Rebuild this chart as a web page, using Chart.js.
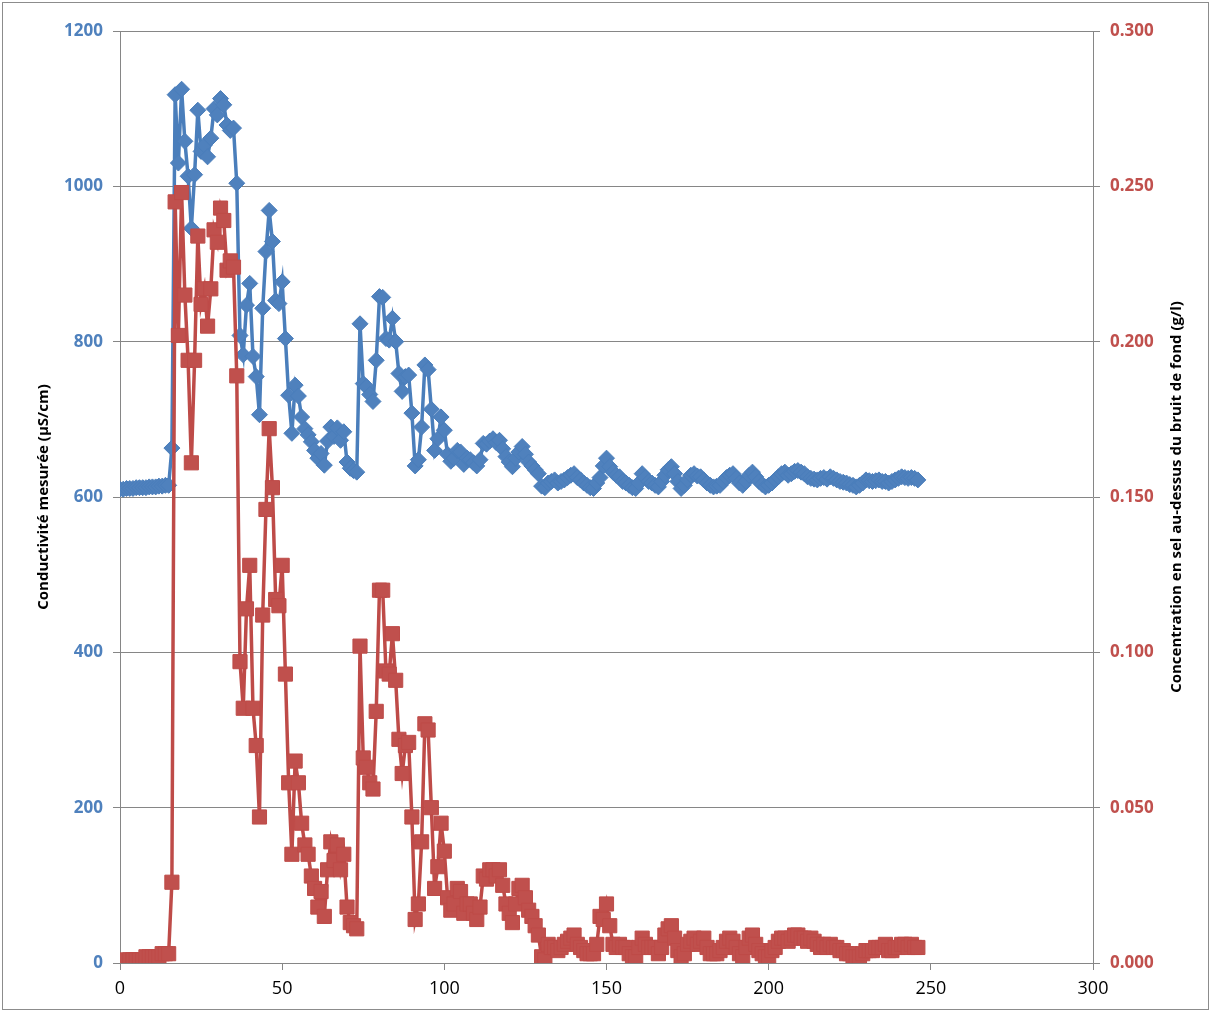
<!DOCTYPE html>
<html>
<head>
<meta charset="utf-8">
<title>Conductivité et concentration en sel</title>
<script src="https://cdn.jsdelivr.net/npm/chart.js@4.4.0/dist/chart.umd.min.js"></script>
<style>
  html, body { margin: 0; padding: 0; background: #fff; }
  #wrap { width: 1212px; height: 1013px; }
</style>
</head>
<body>
<div id="wrap"><canvas id="chart" width="1212" height="1013"></canvas></div>
<script>
// one reading per minute, starting at 0
var conductivite = [
  610, 610, 611, 611, 611, 612, 612, 612, 612, 613, 613, 613, 614, 614, 615, 615,
  663,
  1118, 1030, 1125, 1058, 1013, 946, 1015, 1098, 1045, 1053,
  1038, 1062, 1100, 1092, 1113, 1105, 1079, 1072, 1075, 1004,
  808, 783, 847, 875, 781, 755, 706, 843, 916, 969,
  929, 853, 849, 877, 804, 731, 682, 744, 730, 703,
  688, 680, 671, 660, 650,
  656, 641, 672, 690, 678, 689, 673, 684, 645, 637,
  634, 632, 823, 746, 742, 732, 723, 776, 858, 857,
  804, 802, 830, 800, 759, 736, 755, 757, 708, 640,
  648, 690, 770, 764, 713, 660, 675, 703, 686, 655,
  646, 650, 660, 658, 642, 650, 648, 644, 640, 648, 669,
  668, 672, 675, 670, 673, 662, 652, 645, 639, 650,
  658, 665, 655, 645, 640, 635, 630, 614, 612, 618,
  620, 622, 618, 620, 622, 625, 628, 630, 625, 622,
  618, 615, 612, 611, 618, 625, 640, 650, 639, 632,
  628, 626, 620, 618, 615, 612, 611, 618, 630, 625,
  620, 618, 615, 613, 620, 628, 635, 639, 630, 620,
  611, 615, 622, 628, 630, 627, 626, 622, 618, 615,
  613, 614, 615, 620, 625, 628, 630, 624, 618, 615,
  620, 628, 632, 626, 620, 616, 613, 615, 618, 622,
  626, 630, 632, 628, 630, 633, 634, 632, 630, 626,
  624, 623, 622, 624, 625, 623, 626, 624, 622, 620,
  619, 618, 616, 615, 613, 615, 618, 622, 621, 620,
  621, 622, 620, 620, 618, 620, 622, 624, 626, 625,
  624, 625, 624, 622
];

var concentration = [
  0.000, 0.000, 0.001, 0.001, 0.001, 0.001, 0.001, 0.001, 0.002, 0.002, 0.002, 0.002, 0.002, 0.003, 0.003, 0.003,
  0.026,
  0.245, 0.202, 0.248, 0.215, 0.194, 0.161, 0.194, 0.234, 0.212, 0.217,
  0.205, 0.217, 0.236, 0.232, 0.243, 0.239, 0.223, 0.226, 0.224, 0.189,
  0.097, 0.082, 0.114, 0.128, 0.082, 0.070, 0.047, 0.112, 0.146, 0.172,
  0.153, 0.117, 0.115, 0.128, 0.093, 0.058, 0.035, 0.065, 0.058, 0.045,
  0.038, 0.035, 0.028, 0.024, 0.018,
  0.023, 0.015, 0.030, 0.039, 0.033, 0.038, 0.030, 0.035, 0.018, 0.013,
  0.012, 0.011, 0.102, 0.066, 0.063, 0.058, 0.056, 0.081, 0.120, 0.120,
  0.094, 0.093, 0.106, 0.091, 0.072, 0.061, 0.070, 0.071, 0.047, 0.014,
  0.019, 0.039, 0.077, 0.075, 0.050, 0.024, 0.031, 0.045, 0.036, 0.021,
  0.017, 0.019, 0.024, 0.023, 0.016, 0.019, 0.019, 0.016, 0.014, 0.018, 0.028,
  0.027, 0.030, 0.030, 0.028, 0.030, 0.025, 0.019, 0.016, 0.013, 0.019,
  0.024, 0.025, 0.021, 0.017, 0.015, 0.012, 0.009, 0.002, 0.001, 0.006,
  0.005, 0.005, 0.004, 0.005, 0.006, 0.007, 0.008, 0.009, 0.006, 0.005,
  0.004, 0.003, 0.003, 0.003, 0.006, 0.015, 0.014, 0.019, 0.012, 0.006,
  0.005, 0.006, 0.005, 0.005, 0.003, 0.002, 0.002, 0.005, 0.008, 0.006,
  0.005, 0.005, 0.005, 0.003, 0.005, 0.009, 0.011, 0.012, 0.008, 0.004,
  0.002, 0.003, 0.006, 0.007, 0.008, 0.006, 0.007, 0.008, 0.005, 0.003,
  0.003, 0.003, 0.004, 0.005, 0.007, 0.008, 0.007, 0.005, 0.003, 0.002,
  0.005, 0.008, 0.009, 0.006, 0.004, 0.003, 0.002, 0.002, 0.004, 0.005,
  0.007, 0.008, 0.008, 0.007, 0.008, 0.009, 0.009, 0.008, 0.008, 0.007,
  0.008, 0.007, 0.006, 0.005, 0.006, 0.005, 0.006, 0.005, 0.005, 0.004,
  0.004, 0.003, 0.003, 0.002, 0.002, 0.002, 0.003, 0.004, 0.004, 0.004,
  0.005, 0.005, 0.005, 0.006, 0.004, 0.004, 0.005, 0.005, 0.006, 0.006,
  0.005, 0.006, 0.005, 0.005
];

var leftTitle = 'Conductivité mesurée (µS/cm)';
var rightTitle = 'Concentration en sel au-dessus du bruit de fond (g/l)';

var font = '"Open Sans", "Liberation Sans", sans-serif';
var gridColor = '#868686';

// Excel draws the right axis title bottom-to-top, chart.js does not
var extras = {
  id: 'extras',
  beforeDraw: function (chart) {
    var ctx = chart.ctx;
    ctx.save();
    ctx.fillStyle = '#fff';
    ctx.fillRect(0, 0, chart.width, chart.height);
    ctx.restore();
  },
  afterDraw: function (chart) {
    var ctx = chart.ctx, area = chart.chartArea;
    ctx.save();
    ctx.strokeStyle = '#8c8c8c';
    ctx.lineWidth = 1;
    ctx.strokeRect(2.5, 2.5, 1206, 1007);
    ctx.translate(1177, (area.top + area.bottom) / 2);
    ctx.rotate(-Math.PI / 2);
    ctx.font = 'bold 15px ' + font;
    ctx.fillStyle = '#000';
    ctx.textAlign = 'center';
    ctx.textBaseline = 'middle';
    ctx.fillText(rightTitle, 0, 0);
    ctx.restore();
  }
};

var ctx = document.getElementById('chart').getContext('2d');
var chart = new Chart(ctx, {
  type: 'line',
  data: {
    datasets: [
      {
        label: 'Concentration',
        data: concentration.map(function (v, i) { return {x: i, y: v}; }),
        yAxisID: 'y1',
        borderColor: '#BE4B48',
        backgroundColor: '#C0504D',
        borderWidth: 3.5,
        pointStyle: 'rect',
        pointRadius: 10,
        pointBorderWidth: 1,
        pointBorderColor: '#BE4B48',
        pointBackgroundColor: '#C0504D',
        tension: 0
      },
      {
        label: 'Conductivité',
        data: conductivite.map(function (v, i) { return {x: i, y: v}; }),
        yAxisID: 'y',
        borderColor: '#4A7EBB',
        backgroundColor: '#4F81BD',
        borderWidth: 3.5,
        pointStyle: 'rectRot',
        pointRadius: 8,
        pointBorderWidth: 1,
        pointBorderColor: '#4A7EBB',
        pointBackgroundColor: '#4F81BD',
        tension: 0
      }
    ]
  },
  options: {
    responsive: false,
    animation: false,
    devicePixelRatio: 1,
    layout: { padding: { top: 31, left: 0, right: 0, bottom: 0 } },
    plugins: {
      legend: { display: false },
      tooltip: { enabled: false }
    },
    scales: {
      x: {
        type: 'linear',
        min: 0,
        max: 300,
        ticks: { stepSize: 50, color: '#000', font: { family: font, size: 18 }, padding: 8, maxRotation: 0 },
        grid: { drawOnChartArea: false, tickLength: 7, color: gridColor },
        border: { color: gridColor },
        afterFit: function (s) { s.height = 50; }
      },
      y: {
        position: 'left',
        min: 0,
        max: 1200,
        ticks: {
          stepSize: 200,
          color: '#4F81BD',
          font: { family: font, size: 17, weight: 'bold' },
          padding: 10,
          callback: function (v) { return String(v); }
        },
        grid: { color: gridColor, tickLength: 7 },
        border: { color: gridColor },
        title: { display: true, text: leftTitle, color: '#000', font: { family: font, size: 15, weight: 'bold' }, padding: { top: 35, bottom: 0 } },
        afterFit: function (s) { s.width = 120; }
      },
      y1: {
        position: 'right',
        min: 0,
        max: 0.3,
        ticks: {
          stepSize: 0.05,
          color: '#C0504D',
          font: { family: font, size: 17, weight: 'bold' },
          padding: 10,
          callback: function (v) { return v.toFixed(3); }
        },
        grid: { drawOnChartArea: false, tickLength: 7, color: gridColor },
        border: { color: gridColor },
        afterFit: function (s) { s.width = 119; }
      }
    }
  },
  plugins: [extras]
});
</script>
</body>
</html>
